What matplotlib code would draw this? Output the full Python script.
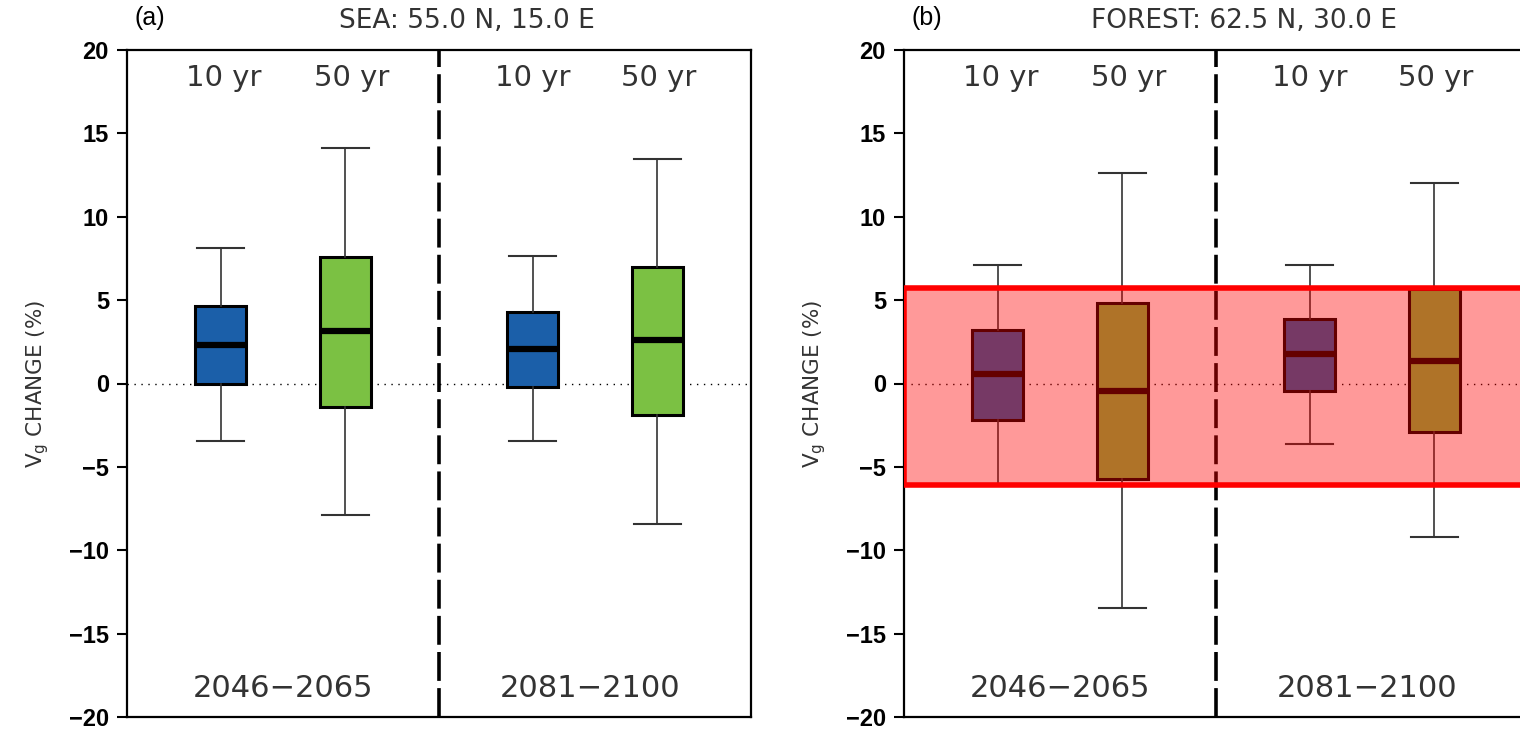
import matplotlib
matplotlib.use("Agg")
import matplotlib.pyplot as plt
from matplotlib.patches import Rectangle

# ---------------- data ----------------
positions = [0.6, 1.4, 2.6, 3.4]
series_labels = ["10 yr", "50 yr", "10 yr", "50 yr"]
period_labels = ["2046\u22122065", "2081\u22122100"]
box_colors = ["#1b5fa9", "#7bc143", "#1b5fa9", "#7bc143"]

# panel (a) SEA
sea_whislo = [-3.45, -7.9, -3.45, -8.4]
sea_q1 = [0.0, -1.4, -0.2, -1.9]
sea_med = [2.3, 3.15, 2.05, 2.6]
sea_q3 = [4.65, 7.6, 4.3, 7.0]
sea_whishi = [8.1, 14.1, 7.65, 13.45]

# panel (b) FOREST
for_whislo = [-6.0, -13.45, -3.6, -9.2]
for_q1 = [-2.2, -5.75, -0.45, -2.9]
for_med = [0.55, -0.45, 1.75, 1.35]
for_q3 = [3.2, 4.85, 3.85, 5.65]
for_whishi = [7.1, 12.6, 7.1, 12.0]

band_low, band_high = -6.1, 5.7

titles = ["SEA: 55.0 N, 15.0 E", "FOREST: 62.5 N, 30.0 E"]
panel_tags = ["(a)", "(b)"]
yticks = [-20, -15, -10, -5, 0, 5, 10, 15, 20]

# ---------------- figure ----------------
fig = plt.figure(figsize=(15.2, 7.31), dpi=100)
W, H = 1520, 731
ax_w = 624 / W
ax_b = (H - 717) / H
ax_h = (717 - 50) / H
axA = fig.add_axes([127 / W, ax_b, ax_w, ax_h])
axB = fig.add_axes([904 / W, ax_b, ax_w, ax_h])

thin_txt = dict(color="#333333", family="DejaVu Sans")


def draw_panel(ax, whislo, q1, med, q3, whishi, title, tag, band=False):
    stats = []
    for i in range(len(positions)):
        stats.append(dict(whislo=whislo[i], q1=q1[i], med=med[i],
                          q3=q3[i], whishi=whishi[i], fliers=[]))
    bp = ax.bxp(stats, positions=positions, widths=0.33, capwidths=0.3,
                patch_artist=True, showfliers=False,
                boxprops=dict(linewidth=2.2, edgecolor="black"),
                medianprops=dict(linewidth=4.5, color="black"),
                whiskerprops=dict(linewidth=1.2, color="#333333"),
                capprops=dict(linewidth=1.5, color="#333333"),
                manage_ticks=False)
    for patch, c in zip(bp["boxes"], box_colors):
        patch.set_facecolor(c)
    ax.set_xlim(0, 4)
    ax.set_ylim(-20, 20)
    ax.axhline(0, color="black", lw=1.0, ls=(0, (1, 4)), zorder=0.5)
    ax.axvline(2.0, color="black", lw=2.6, ls=(0, (8, 2)), zorder=3)
    ax.set_xticks([])
    ax.set_yticks(yticks)
    ax.set_yticklabels([str(v).replace("-", "\u2212") for v in yticks],
                       fontsize=17, fontweight="bold", family="Liberation Sans")
    ax.tick_params(axis="y", direction="out", length=7, width=1.5, pad=6)
    for s in ax.spines.values():
        s.set_linewidth(1.6)
    label_x = [0.62, 1.44, 2.6, 3.41]
    for x, lab in zip(label_x, series_labels):
        ax.text(x, 18.35, lab, ha="center", va="center", fontsize=21,
                **thin_txt)
    for x, lab in zip([1.0, 2.97], period_labels):
        ax.text(x, -18.3, lab, ha="center", va="center", fontsize=22,
                **thin_txt)
    ax.set_ylabel("V$_{\\rm g}$ CHANGE (%)", fontsize=15.5, color="#333333",
                  labelpad=13)
    ax.text(2.18, 21.75, title, ha="center", va="center", fontsize=19,
            **thin_txt)
    ax.text(0.05, 21.9, tag, ha="left", va="center", fontsize=18,
            color="black", family="Liberation Sans")
    if band:
        ax.add_patch(Rectangle((0, band_low), 4.5, band_high - band_low,
                               facecolor=(1, 0, 0, 0.4), edgecolor="red",
                               linewidth=4, zorder=10, clip_on=True))


draw_panel(axA, sea_whislo, sea_q1, sea_med, sea_q3, sea_whishi,
           titles[0], panel_tags[0])
draw_panel(axB, for_whislo, for_q1, for_med, for_q3, for_whishi,
           titles[1], panel_tags[1], band=True)

fig.savefig("out.png", dpi=100)
